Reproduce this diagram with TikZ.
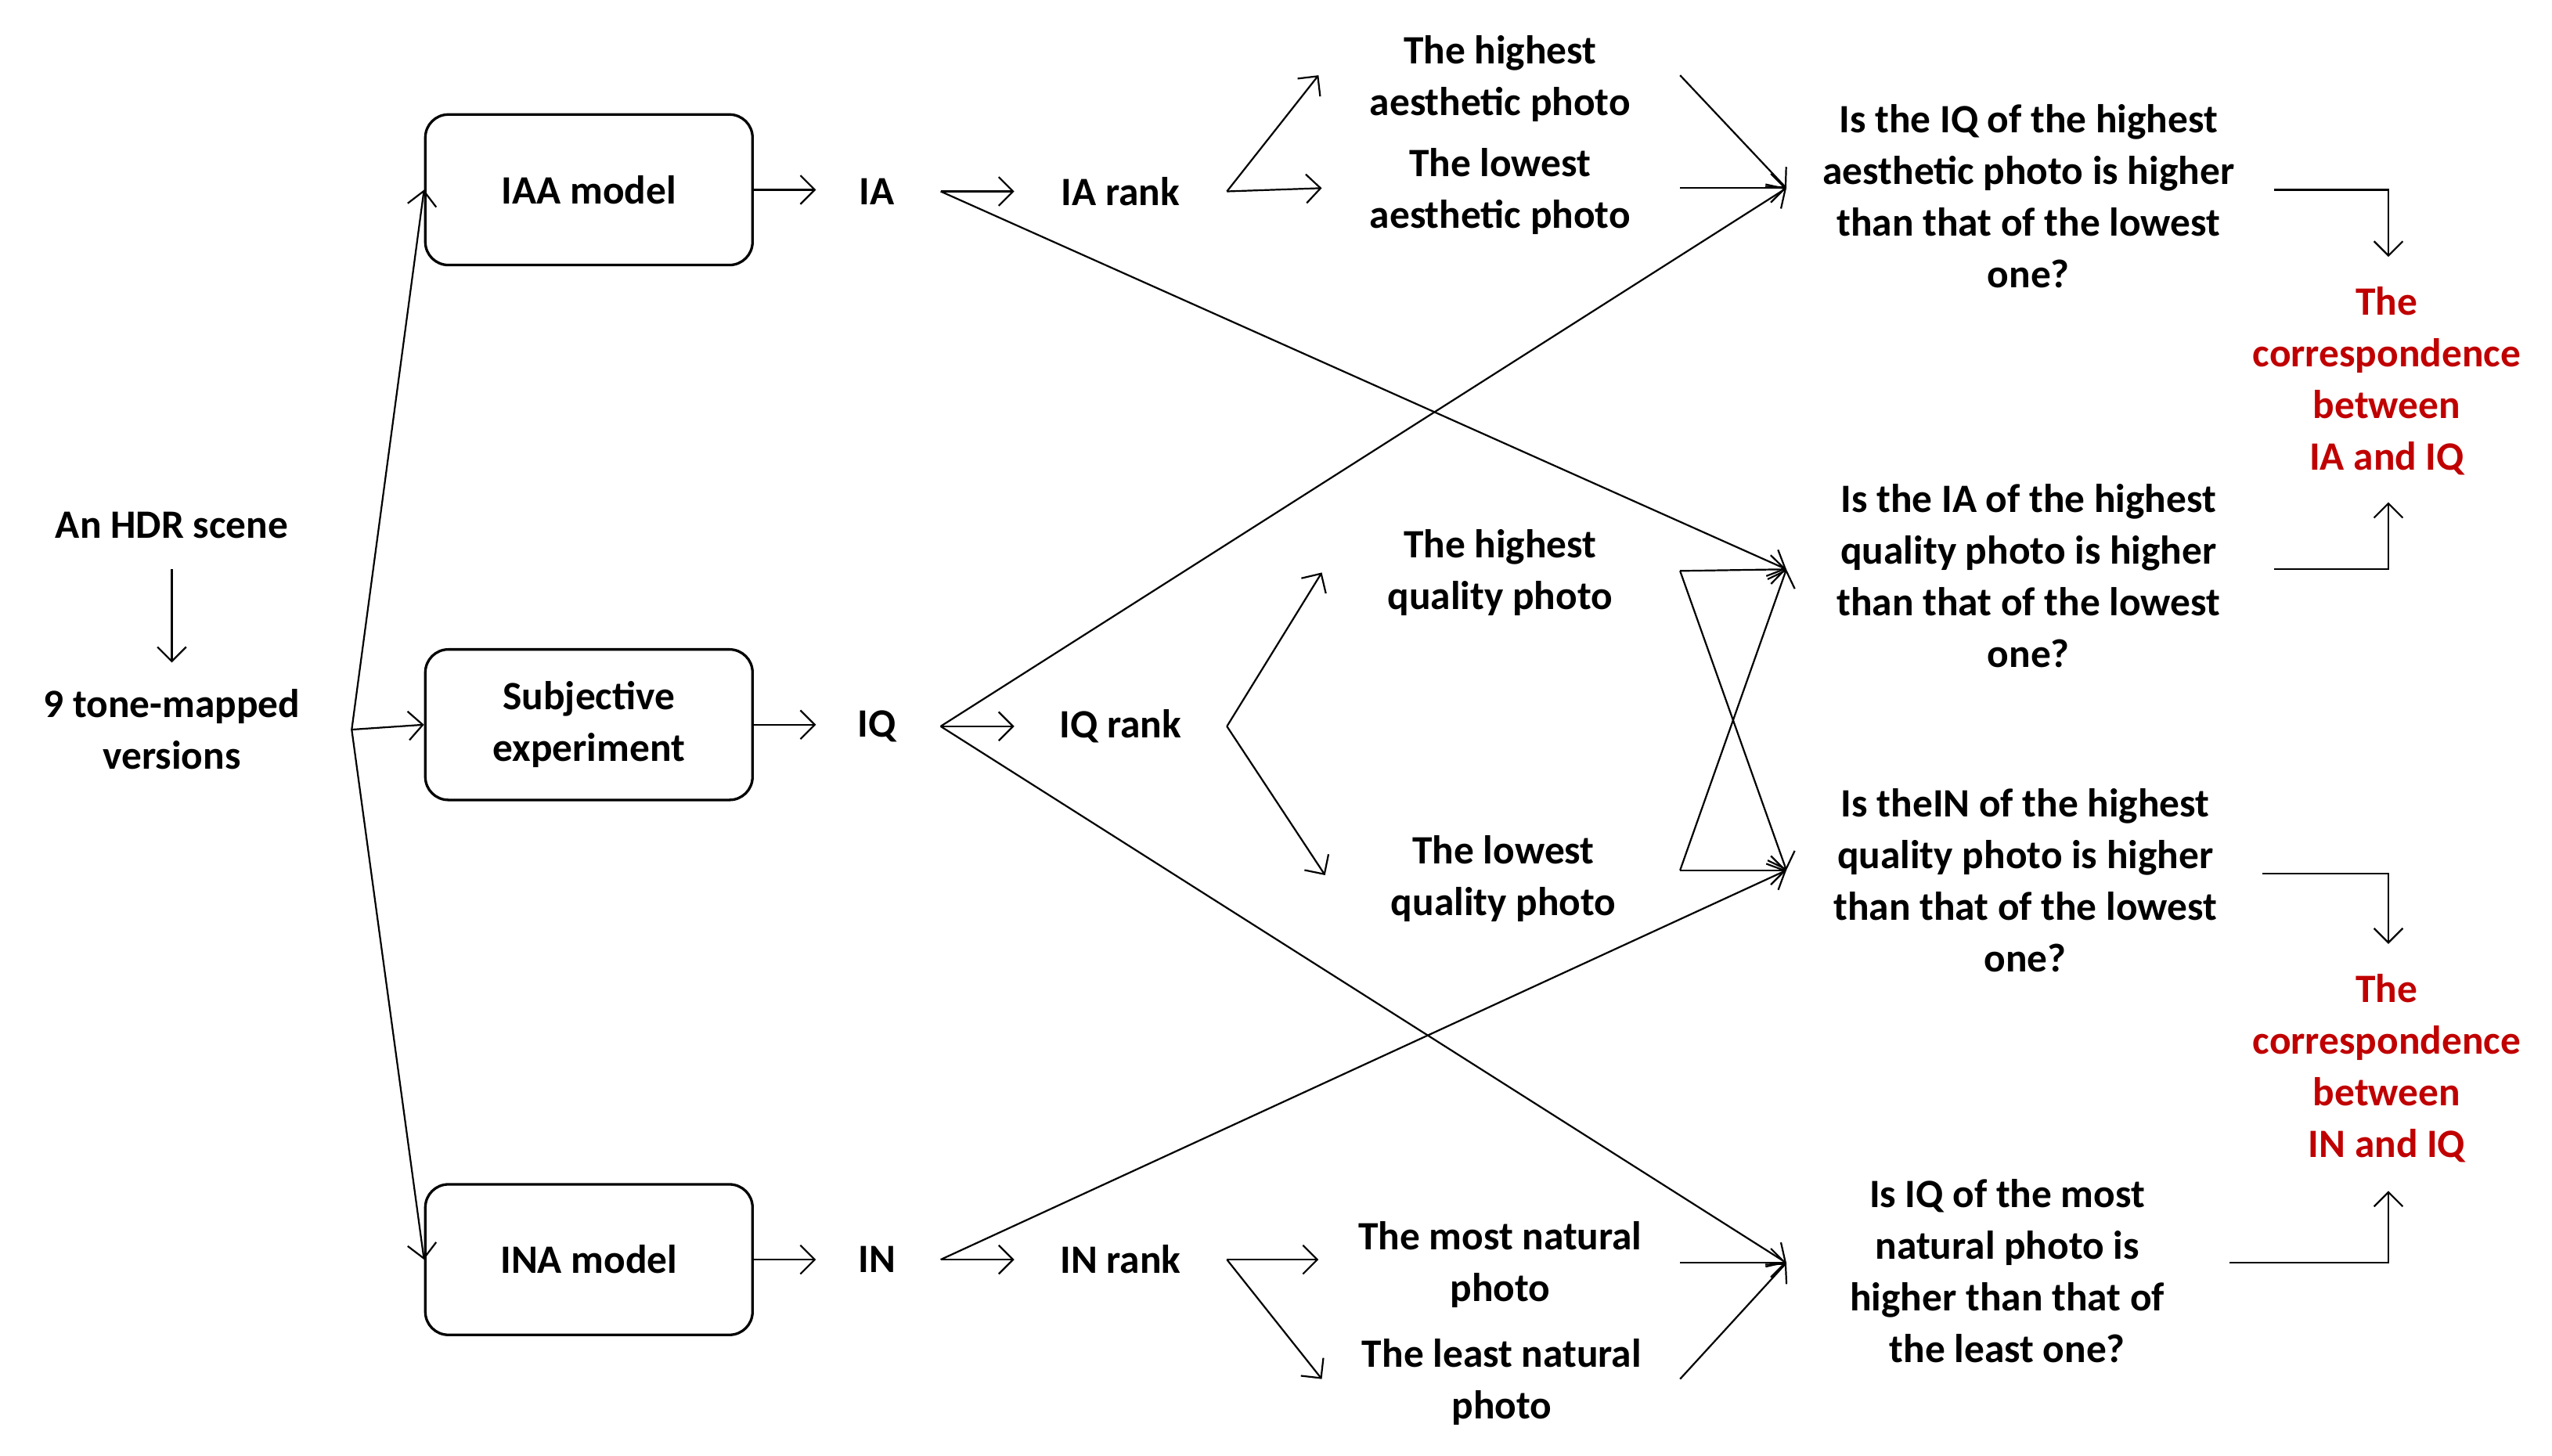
\documentclass[tikz,border=0pt]{standalone}
\usepackage{fontspec}
\setmainfont{Carlito}
\usetikzlibrary{arrows.meta}
\begin{document}
\begin{tikzpicture}[x=0.02cm,y=-0.02cm,
  t/.style={font=\bfseries\fontsize{14}{18}\selectfont,align=center,inner sep=0},
  red/.style={t,text={rgb,255:red,192;green,0;blue,0}},
  box/.style={draw,rounded corners=8pt,line width=0.9pt,minimum width=200*0.02cm,minimum height=92*0.02cm,t},
  ar/.style={-{Straight Barb[length=5pt,width=10pt,line width=0.6pt]},line width=0.6pt},
  ln/.style={line width=0.6pt}]
\useasboundingbox (0,0) rectangle (1560,890);
\node[t] (hdr) at (105,321) {An HDR scene};
\node[t] (tm) at (105,446) {9 tone-mapped\\versions};
\coordinate (h1) at (105,348); \coordinate (h2) at (105,405);
\draw[ar] (h1) -- (h2);
\coordinate (fork) at (215,446);
\node[box] (iaa) at (360,116) {IAA model};
\node[box] (subj) at (360,443) {Subjective\\experiment};
\node[box] (ina) at (360,770) {INA model};
\draw[ar] (fork) -- (iaa.west);
\draw[ar] (fork) -- (subj.west);
\draw[ar] (fork) -- (ina.west);
\node[t] (ia) at (536,117) {IA};
\node[t] (iq) at (536,444) {IQ};
\node[t] (in) at (536,770) {IN};
\draw[ar] (iaa.east) -- ++(38,0);
\draw[ar] (subj.east) -- ++(38,0);
\draw[ar] (ina.east) -- ++(38,0);
\node[t] (iar) at (685,117) {IA rank};
\node[t] (iqr) at (685,444) {IQ rank};
\node[t] (inr) at (685,770) {IN rank};
\coordinate (iaO) at (575,117); \coordinate (iqO) at (575,444); \coordinate (inO) at (575,770);
\draw[ar] (iaO) -- (620,117);
\draw[ar] (iqO) -- (620,444);
\draw[ar] (inO) -- (620,770);
\draw[ar] (750,117) -- (806,46); \draw[ar] (750,117) -- (808,115);
\draw[ar] (750,444) -- (808,350); \draw[ar] (750,444) -- (810,535);
\draw[ar] (750,770) -- (806,770); \draw[ar] (750,770) -- (808,843);
\node[t] (ha) at (917,48) {The highest\\aesthetic photo};
\node[t] (la) at (917,117) {The lowest\\aesthetic photo};
\node[t] (hq) at (917,350) {The highest\\quality photo};
\node[t] (lq) at (919,537) {The lowest\\quality photo};
\node[t] (mn) at (917,773) {The most natural\\photo};
\node[t] (ln2) at (918,845) {The least natural\\photo};
\coordinate (q1in) at (1092,115); \coordinate (q2in) at (1092,348);
\coordinate (q3in) at (1092,532); \coordinate (q4in) at (1092,772);
\draw[ar] (1027,46) -- (q1in); \draw[ar] (1027,115) -- (q1in);
\draw[ar] (1027,349) -- (q2in); \draw[ar] (1027,349) -- (q3in);
\draw[ar] (1027,532) -- (q3in); \draw[ar] (1027,532) -- (q2in);
\draw[ar] (1027,772) -- (q4in); \draw[ar] (1027,843) -- (q4in);
\draw[ar] (iaO) -- (q2in);
\draw[ar] (iqO) -- (q1in);
\draw[ar] (iqO) -- (q4in);
\draw[ar] (inO) -- (q3in);
\node[t] (q1) at (1240,120) {Is the IQ of the highest\\aesthetic photo is higher\\than that of the lowest\\one?};
\node[t] (q2) at (1240,352) {Is the IA of the highest\\quality photo is higher\\than that of the lowest\\one?};
\node[t] (q3) at (1238,538) {Is theIN of the highest\\quality photo is higher\\than that of the lowest\\one?};
\node[t] (q4) at (1227,777) {Is IQ of the most\\natural photo is\\higher than that of\\the least one?};
\node[red] (c1) at (1459,233) {The\\correspondence\\between\\IA and IQ};
\node[red] (c2) at (1459,653) {The\\correspondence\\between\\IN and IQ};
\draw[ar] (1390,116) -- (1460,116) -- (1460,157);
\draw[ar] (1390,348) -- (1460,348) -- (1460,307);
\draw[ar] (1383,534) -- (1460,534) -- (1460,577);
\draw[ar] (1363,772) -- (1460,772) -- (1460,728);
\end{tikzpicture}
\end{document}
